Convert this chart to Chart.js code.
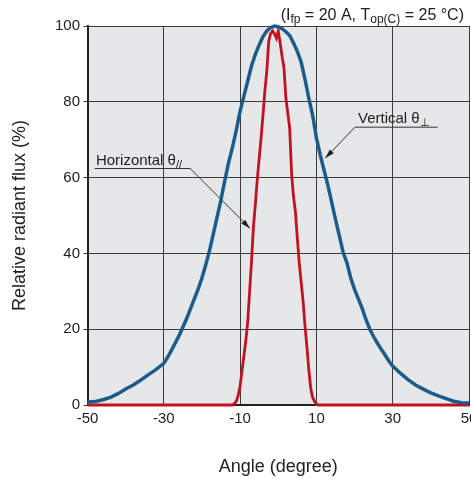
<!DOCTYPE html>
<html>
<head>
<meta charset="utf-8">
<script src="https://cdn.jsdelivr.net/npm/chart.js@4.4.1/dist/chart.umd.min.js"></script>
<style>
  body { margin: 0; background: #fff; }
  #wrap { width: 471px; height: 482px; }
</style>
</head>
<body>
<div id="wrap"><canvas id="fluxChart" width="471" height="482"></canvas></div>
<script>
// values
const xTicks = [-50, -30, -10, 10, 30, 50];
const yTicks = [0, 20, 40, 60, 80, 100];

const verticalAngle = [
  -50, -48, -46, -44, -42, -40, -38, -36, -34, -32, -30, -29, -28, -26, -24, -22, -21,
  -20, -19, -18, -17, -16, -15, -14, -13, -12, -11, -10, -9, -8, -7, -6, -5, -4,
  -3, -2, -1, 0, 1, 2, 3, 4, 5, 6, 7, 8, 9, 10, 11, 12, 13, 14, 15, 16, 17, 18,
  19, 20, 21, 22, 23, 24, 25, 26, 27, 28, 29, 30, 32, 34, 36, 38, 40, 42, 44, 46,
  48, 50,
];
const verticalFlux = [
  0.8, 0.9, 1.4, 2, 3, 4.2, 5.3, 6.6, 8, 9.4, 11, 12.6, 14.4, 18.3, 22.8, 28, 30.6,
  33.5, 37, 40.8, 45.2, 49.7, 54.2, 59.3, 64, 68, 72.5, 77.5, 81.5, 85.5, 89.5, 92.5, 95, 97.2,
  98.7, 99.6, 100, 99.8, 99.3, 98.5, 97.5, 95.5, 93.3, 90.5, 86, 81, 76.5, 70.5, 66, 62, 58, 53.5, 49, 44.7, 40.3, 37.5,
  33.5, 30.5, 28, 25.5, 22.5, 20, 18, 16.3, 14.7, 13.2, 11.6, 10.3, 8.4, 6.7, 5.3, 4.2, 3.2, 2.4, 1.7, 1,
  0.6, 0.5,
];

const horizontalAngle = [
  -50, -12, -11.5, -11, -10.5, -10, -9.5, -9, -8.5, -8, -7.5, -7, -6.5, -6, -5.5,
  -5, -4.5, -4, -3.5, -3, -2.5, -2, -1.5, -1, -0.5, 0, 0.5, 1, 1.5, 2, 2.5, 3,
  3.5, 4, 4.5, 5, 5.5, 6, 6.5, 7, 7.5, 8, 8.5, 9, 9.5, 10, 10.5, 50,
];
const horizontalFlux = [
  0, 0, 0.4, 1, 2.5, 5, 9, 13, 17, 22, 30, 38, 47, 53, 59.5,
  65, 70.5, 76.5, 83, 88, 96, 98, 98.7, 98, 96.8, 98.7, 95.5, 92, 89, 81, 77, 73,
  61, 55, 51, 44, 37.5, 32.5, 27.5, 21, 15.5, 9.5, 4.5, 2, 1, 0.2, 0, 0,
];

const FONT = "'Liberation Sans', Arial, Helvetica, sans-serif";
Chart.defaults.font.family = FONT;
Chart.defaults.color = "#222";

function toPoints(xs, ys) {
  return xs.map((x, i) => ({ x: x, y: ys[i] }));
}

// write text pieces, some of them as subscripts
function drawRuns(ctx, runs, x, y, size) {
  runs.forEach(([text, sub]) => {
    ctx.font = (sub ? Math.round(size * 0.72) : size) + "px " + FONT;
    ctx.fillText(text, x, sub ? y + 3 : y);
    x += ctx.measureText(text).width;
  });
  return x;
}
function runsWidth(ctx, runs, size) {
  let w = 0;
  runs.forEach(([text, sub]) => {
    ctx.font = (sub ? Math.round(size * 0.72) : size) + "px " + FONT;
    w += ctx.measureText(text).width;
  });
  return w;
}

function arrow(ctx, x1, y1, x2, y2) {
  ctx.beginPath();
  ctx.moveTo(x1, y1);
  ctx.lineTo(x2, y2);
  ctx.stroke();
  const ang = Math.atan2(y2 - y1, x2 - x1);
  ctx.beginPath();
  ctx.moveTo(x2, y2);
  ctx.lineTo(x2 - 10 * Math.cos(ang - 0.28), y2 - 10 * Math.sin(ang - 0.28));
  ctx.lineTo(x2 - 10 * Math.cos(ang + 0.28), y2 - 10 * Math.sin(ang + 0.28));
  ctx.closePath();
  ctx.fill();
}

const backdrop = {
  id: "backdrop",
  beforeDraw(chart) {
    const { ctx, chartArea: a } = chart;
    ctx.save();
    ctx.fillStyle = "#e6e7e9";
    ctx.fillRect(a.left, a.top, a.right - a.left, a.bottom - a.top);
    ctx.restore();
  },
};

const labels = {
  id: "labels",
  afterDraw(chart) {
    const ctx = chart.ctx;
    const xs = chart.scales.x;
    const ys = chart.scales.y;
    ctx.save();
    ctx.fillStyle = "#222";
    ctx.strokeStyle = "#333";
    ctx.lineWidth = 1;
    ctx.textBaseline = "alphabetic";
    ctx.textAlign = "left";

    // conditions at top right
    const cond = [["(I", 0], ["fp", 1], [" = 20 A, T", 0], ["op(C)", 1], [" = 25 °C)", 0]];
    const cw = runsWidth(ctx, cond, 16);
    drawRuns(ctx, cond, 464 - cw, 20, 16);

    // Horizontal label
    let tx = xs.getPixelForValue(-47.8);
    let ty = ys.getPixelForValue(63.3);
    drawRuns(ctx, [["Horizontal θ", 0], ["//", 1]], tx, ty, 15);
    let uy = ys.getPixelForValue(62.4);
    let ux1 = xs.getPixelForValue(-48.1);
    let ux2 = xs.getPixelForValue(-23.1);
    ctx.beginPath();
    ctx.moveTo(ux1, uy);
    ctx.lineTo(ux2, uy);
    ctx.stroke();
    arrow(ctx, ux2, uy, xs.getPixelForValue(-7.4), ys.getPixelForValue(46.6));

    // Vertical label
    tx = xs.getPixelForValue(20.9);
    ty = ys.getPixelForValue(74.4);
    drawRuns(ctx, [["Vertical θ", 0], ["⊥", 1]], tx, ty, 15);
    uy = ys.getPixelForValue(73.3);
    ux1 = xs.getPixelForValue(20.1);
    ux2 = xs.getPixelForValue(41.8);
    ctx.beginPath();
    ctx.moveTo(ux1, uy);
    ctx.lineTo(ux2, uy);
    ctx.stroke();
    arrow(ctx, ux1, uy, xs.getPixelForValue(12.3), ys.getPixelForValue(65.1));
    ctx.restore();
  },
};

const ctx = document.getElementById("fluxChart").getContext("2d");
new Chart(ctx, {
  type: "scatter",
  data: {
    datasets: [
      {
        label: "Vertical",
        data: toPoints(verticalAngle, verticalFlux),
        showLine: true,
        borderColor: "#1d5b8b",
        borderWidth: 3.5,
        pointRadius: 0,
        tension: 0,
        clip: 4,
      },
      {
        label: "Horizontal",
        data: toPoints(horizontalAngle, horizontalFlux),
        showLine: true,
        borderColor: "#c2121f",
        borderWidth: 2.8,
        pointRadius: 0,
        tension: 0,
        clip: 4,
      },
    ],
  },
  options: {
    responsive: false,
    animation: false,
    layout: { padding: { top: 26, right: 2, left: 0, bottom: 0 } },
    scales: {
      x: {
        type: "linear",
        min: -50,
        max: 50,
        afterBuildTicks: (scale) => {
          scale.ticks = xTicks.map((v) => ({ value: v }));
        },
        afterFit: (scale) => {
          scale.height = 77;
          scale.paddingLeft = 0;
          scale.paddingRight = 0;
        },
        grid: { color: "#3a3a3a", lineWidth: 1, drawTicks: false },
        border: { color: "#222", width: 2 },
        ticks: { font: { size: 15 }, padding: 5, maxRotation: 0, autoSkip: false },
        title: {
          display: true,
          text: "Angle (degree)",
          font: { size: 18 },
          padding: { top: 0, bottom: 4 },
        },
      },
      y: {
        min: 0,
        max: 100,
        afterBuildTicks: (scale) => {
          scale.ticks = yTicks.map((v) => ({ value: v }));
        },
        afterFit: (scale) => {
          scale.width = 87.5;
          scale.paddingTop = 0;
          scale.paddingBottom = 0;
        },
        grid: { color: "#3a3a3a", lineWidth: 1, tickLength: 4 },
        border: { color: "#222", width: 2 },
        ticks: { font: { size: 15 }, padding: 3.5 },
        title: {
          display: true,
          text: "Relative radiant flux (%)",
          font: { size: 18 },
          padding: { top: 9, bottom: 0 },
        },
      },
    },
    plugins: {
      legend: { display: false },
      tooltip: { enabled: false },
    },
  },
  plugins: [backdrop, labels],
});
</script>
</body>
</html>
